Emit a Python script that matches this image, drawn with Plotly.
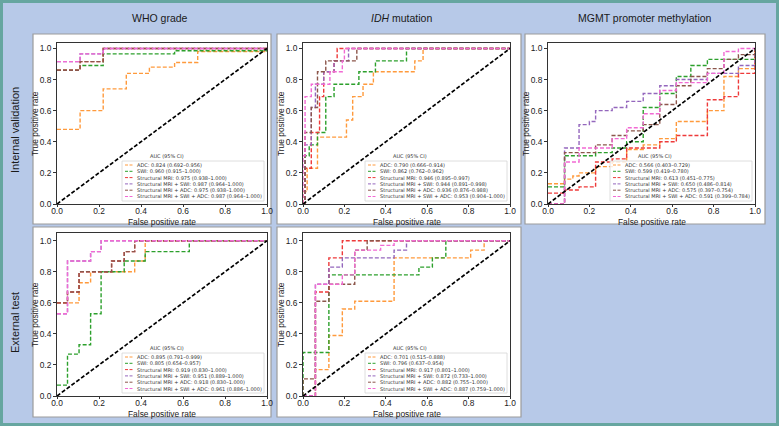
import plotly.graph_objects as go

W, H = 779, 426

header_titles = ["WHO grade", "<i>IDH</i> mutation", "MGMT promoter methylation"]
row_titles = ["Internal validation", "External test"]
series_names = ["ADC", "SWI", "Structural MRI", "Structural MRI + SWI",
                "Structural MRI + ADC", "Structural MRI + SWI + ADC"]
colors = ["#ff9a3c", "#2ca02c", "#ee3a3a", "#9467bd", "#8c564b", "#f26ad4"]
x_ticks = [0.0, 0.2, 0.4, 0.6, 0.8, 1.0]
y_ticks = [0.0, 0.2, 0.4, 0.6, 0.8, 1.0]
x_title = "False positive rate"
y_title = "True positive rate"
legend_title = "AUC (95% CI)"

# ---------- Panel 1: WHO grade, internal validation ----------
who_int_fpr = [
    [0, 0.11, 0.11, 0.22, 0.22, 0.33, 0.33, 0.44, 0.44, 0.56, 0.56, 0.67, 0.67, 1.0, 1.0],
    [0, 0.11, 0.11, 0.22, 0.22, 0.56, 0.56, 1.0, 1.0],
    [0, 0.11, 0.11, 0.22, 0.22, 1.0],
    [0, 0.11, 0.11, 0.22, 0.22, 1.0],
    [0, 0.11, 0.11, 0.22, 0.22, 1.0],
    [0, 0.11, 0.11, 0.22, 0.22, 1.0],
]
who_int_tpr = [
    [0.48, 0.48, 0.60, 0.60, 0.74, 0.74, 0.84, 0.84, 0.88, 0.88, 0.91, 0.91, 0.98, 0.98, 1.0],
    [0.86, 0.86, 0.89, 0.89, 0.965, 0.965, 0.985, 0.985, 1.0],
    [0.86, 0.86, 0.915, 0.915, 1.0, 1.0],
    [0.915, 0.915, 0.965, 0.965, 1.0, 1.0],
    [0.86, 0.86, 0.915, 0.915, 1.0, 1.0],
    [0.915, 0.915, 0.965, 0.965, 1.0, 1.0],
]
who_int_auc = ["0.824 (0.692\u20130.956)", "0.960 (0.915\u20131.000)", "0.975 (0.938\u20131.000)",
               "0.987 (0.964\u20131.000)", "0.975 (0.938\u20131.000)", "0.987 (0.964\u20131.000)"]

# ---------- Panel 2: IDH mutation, internal validation ----------
idh_int_fpr = [
    [0, 0, 0.02, 0.02, 0.07, 0.07, 0.21, 0.21, 0.24, 0.24, 0.29, 0.29, 0.34, 0.34, 0.54, 0.54, 0.58, 0.58, 1.0],
    [0, 0.01, 0.01, 0.03, 0.03, 0.07, 0.07, 0.11, 0.11, 0.15, 0.15, 0.27, 0.27, 0.35, 0.35, 0.50, 0.50, 1.0],
    [0, 0.01, 0.01, 0.04, 0.04, 0.08, 0.08, 0.10, 0.10, 0.15, 0.15, 0.165, 0.165, 1.0],
    [0, 0.01, 0.01, 0.04, 0.04, 0.06, 0.06, 0.10, 0.10, 0.15, 0.15, 0.22, 0.22, 1.0],
    [0, 0.01, 0.01, 0.04, 0.04, 0.07, 0.07, 0.11, 0.11, 0.26, 0.26, 1.0],
    [0, 0, 0.01, 0.01, 0.04, 0.04, 0.13, 0.13, 0.19, 0.19, 0.20, 0.20, 1.0],
]
idh_int_tpr = [
    [0, 0.08, 0.08, 0.23, 0.23, 0.43, 0.43, 0.54, 0.54, 0.69, 0.69, 0.77, 0.77, 0.85, 0.85, 0.92, 0.92, 1.0, 1.0],
    [0, 0, 0.31, 0.31, 0.38, 0.38, 0.46, 0.46, 0.69, 0.69, 0.77, 0.77, 0.85, 0.85, 0.92, 0.92, 1.0, 1.0],
    [0, 0, 0.23, 0.23, 0.46, 0.46, 0.69, 0.69, 0.85, 0.85, 0.92, 0.92, 1.0, 1.0],
    [0, 0, 0.38, 0.38, 0.62, 0.62, 0.77, 0.77, 0.85, 0.85, 0.92, 0.92, 1.0, 1.0],
    [0, 0, 0.46, 0.46, 0.62, 0.62, 0.85, 0.85, 0.92, 0.92, 1.0, 1.0],
    [0, 0.31, 0.31, 0.69, 0.69, 0.77, 0.77, 0.85, 0.85, 0.92, 0.92, 1.0, 1.0],
]
idh_int_auc = ["0.790 (0.666\u20130.914)", "0.862 (0.762\u20130.962)", "0.946 (0.895\u20130.997)",
               "0.944 (0.891\u20130.998)", "0.936 (0.876\u20130.988)", "0.953 (0.904\u20131.000)"]

# ---------- Panel 3: MGMT promoter methylation, internal validation ----------
mgmt_int_fpr = [
    [0, 0.08, 0.08, 0.12, 0.12, 0.15, 0.15, 0.23, 0.23, 0.31, 0.31, 0.38, 0.38, 0.46, 0.46, 0.54, 0.54, 0.62, 0.62, 0.77, 0.77, 0.85, 0.85, 0.92, 0.92, 1.0, 1.0],
    [0, 0.08, 0.08, 0.23, 0.23, 0.31, 0.31, 0.38, 0.38, 0.46, 0.46, 0.54, 0.54, 0.62, 0.62, 0.69, 0.69, 0.77, 0.77, 1.0, 1.0],
    [0, 0.08, 0.08, 0.15, 0.15, 0.23, 0.23, 0.31, 0.31, 0.38, 0.38, 0.54, 0.54, 0.62, 0.62, 0.77, 0.77, 0.85, 0.85, 0.92, 0.92, 1.0, 1.0],
    [0, 0.08, 0.08, 0.15, 0.15, 0.20, 0.20, 0.23, 0.23, 0.31, 0.31, 0.38, 0.38, 0.46, 0.46, 0.54, 0.54, 0.62, 0.62, 0.77, 0.77, 0.92, 0.92, 1.0, 1.0],
    [0, 0.08, 0.08, 0.23, 0.23, 0.31, 0.31, 0.38, 0.38, 0.46, 0.46, 0.54, 0.54, 0.62, 0.62, 0.69, 0.69, 0.77, 0.77, 0.85, 0.85, 0.92, 0.92, 1.0, 1.0],
    [0, 0.08, 0.08, 0.15, 0.15, 0.31, 0.31, 0.38, 0.38, 0.46, 0.46, 0.54, 0.54, 0.62, 0.62, 0.77, 0.77, 0.85, 0.85, 0.92, 0.92, 1.0],
]
mgmt_int_tpr = [
    [0.13, 0.13, 0.16, 0.16, 0.18, 0.18, 0.20, 0.20, 0.24, 0.24, 0.27, 0.27, 0.35, 0.35, 0.38, 0.38, 0.42, 0.42, 0.53, 0.53, 0.60, 0.60, 0.82, 0.82, 0.87, 0.87, 1.0],
    [0.11, 0.11, 0.31, 0.31, 0.33, 0.33, 0.36, 0.36, 0.40, 0.40, 0.62, 0.62, 0.71, 0.71, 0.82, 0.82, 0.89, 0.89, 0.93, 0.93, 1.0],
    [0.07, 0.07, 0.09, 0.09, 0.11, 0.11, 0.27, 0.27, 0.29, 0.29, 0.36, 0.36, 0.40, 0.40, 0.44, 0.44, 0.67, 0.67, 0.69, 0.69, 0.84, 0.84, 1.0],
    [0, 0, 0.36, 0.36, 0.51, 0.51, 0.53, 0.53, 0.60, 0.60, 0.62, 0.62, 0.66, 0.66, 0.71, 0.71, 0.76, 0.76, 0.80, 0.80, 0.84, 0.84, 0.89, 0.89, 1.0],
    [0, 0, 0.33, 0.33, 0.38, 0.38, 0.44, 0.44, 0.47, 0.47, 0.51, 0.51, 0.64, 0.64, 0.76, 0.76, 0.82, 0.82, 0.87, 0.87, 0.93, 0.93, 0.96, 0.96, 1.0],
    [0, 0, 0.27, 0.27, 0.36, 0.36, 0.42, 0.42, 0.49, 0.49, 0.58, 0.58, 0.73, 0.73, 0.78, 0.78, 0.84, 0.84, 0.98, 0.98, 1.0, 1.0],
]
mgmt_int_auc = ["0.566 (0.403\u20130.729)", "0.599 (0.419\u20130.780)", "0.613 (0.451\u20130.775)",
                "0.650 (0.486\u20130.814)", "0.575 (0.397\u20130.754)", "0.591 (0.399\u20130.784)"]

# ---------- Panel 4: WHO grade, external test ----------
who_ext_fpr = [
    [0, 0.105, 0.105, 0.16, 0.16, 0.37, 0.37, 0.42, 0.42, 1.0],
    [0, 0.05, 0.05, 0.105, 0.105, 0.16, 0.16, 0.21, 0.21, 0.32, 0.32, 0.42, 0.42, 0.63, 0.63, 1.0],
    [0, 0.05, 0.05, 0.105, 0.105, 0.26, 0.26, 0.32, 0.32, 0.37, 0.37, 1.0],
    [0, 0.05, 0.05, 0.16, 0.16, 0.21, 0.21, 1.0],
    [0, 0.05, 0.05, 0.105, 0.105, 0.26, 0.26, 0.32, 0.32, 0.37, 0.37, 1.0],
    [0, 0.05, 0.05, 0.16, 0.16, 0.21, 0.21, 1.0],
]
who_ext_tpr = [
    [0.60, 0.60, 0.73, 0.73, 0.80, 0.80, 0.87, 0.87, 1.0, 1.0],
    [0.07, 0.07, 0.27, 0.27, 0.33, 0.33, 0.53, 0.53, 0.80, 0.80, 0.87, 0.87, 0.93, 0.93, 1.0, 1.0],
    [0.60, 0.60, 0.67, 0.67, 0.80, 0.80, 0.87, 0.87, 0.93, 0.93, 1.0, 1.0],
    [0.53, 0.53, 0.87, 0.87, 0.93, 0.93, 1.0, 1.0],
    [0.60, 0.60, 0.67, 0.67, 0.80, 0.80, 0.87, 0.87, 0.93, 0.93, 1.0, 1.0],
    [0.53, 0.53, 0.87, 0.87, 0.93, 0.93, 1.0, 1.0],
]
who_ext_auc = ["0.895 (0.791\u20130.999)", "0.805 (0.654\u20130.957)", "0.919 (0.830\u20131.000)",
               "0.951 (0.889\u20131.000)", "0.918 (0.830\u20131.000)", "0.961 (0.886\u20131.000)"]

# ---------- Panel 5: IDH mutation, external test ----------
idh_ext_fpr = [
    [0, 0.06, 0.06, 0.125, 0.125, 0.19, 0.19, 0.25, 0.25, 0.44, 0.44, 0.81, 0.81, 0.875, 0.875, 1.0],
    [0, 0, 0.125, 0.125, 0.56, 0.56, 0.625, 0.625, 0.69, 0.69, 1.0],
    [0, 0.06, 0.06, 0.125, 0.125, 0.19, 0.19, 1.0],
    [0, 0.06, 0.06, 0.125, 0.125, 0.19, 0.19, 0.44, 0.44, 0.50, 0.50, 1.0],
    [0, 0, 0.06, 0.06, 0.125, 0.125, 0.25, 0.25, 0.31, 0.31, 1.0],
    [0, 0.06, 0.06, 0.19, 0.19, 0.25, 0.25, 0.375, 0.375, 0.44, 0.44, 1.0],
]
idh_ext_tpr = [
    [0, 0, 0.17, 0.17, 0.39, 0.39, 0.56, 0.56, 0.61, 0.61, 0.89, 0.89, 0.94, 0.94, 1.0, 1.0],
    [0, 0.28, 0.28, 0.78, 0.78, 0.83, 0.83, 0.89, 0.89, 1.0, 1.0],
    [0, 0, 0.67, 0.67, 0.89, 0.89, 1.0, 1.0],
    [0, 0, 0.72, 0.72, 0.83, 0.83, 0.89, 0.89, 0.94, 0.94, 1.0, 1.0],
    [0, 0.11, 0.11, 0.61, 0.61, 0.72, 0.72, 0.94, 0.94, 1.0, 1.0],
    [0, 0, 0.72, 0.72, 0.78, 0.78, 0.94, 0.94, 0.97, 0.97, 1.0, 1.0],
]
idh_ext_auc = ["0.701 (0.515\u20130.888)", "0.796 (0.637\u20130.954)", "0.917 (0.801\u20131.000)",
               "0.872 (0.733\u20131.000)", "0.882 (0.755\u20131.000)", "0.887 (0.759\u20131.000)"]

panel_data = [
    (who_int_fpr, who_int_tpr, who_int_auc),
    (idh_int_fpr, idh_int_tpr, idh_int_auc),
    (mgmt_int_fpr, mgmt_int_tpr, mgmt_int_auc),
    (who_ext_fpr, who_ext_tpr, who_ext_auc),
    (idh_ext_fpr, idh_ext_tpr, idh_ext_auc),
]

# ---------- layout geometry (pixels) ----------
panel_boxes = [(33, 34, 271, 224), (277, 34, 521, 224), (525, 34, 765, 224),
               (33, 227, 271, 417), (277, 227, 521, 417)]
plot_areas = [(57, 43, 267, 204), (303, 43, 510, 204), (548, 43, 755, 204),
              (57, 233, 267, 396), (303, 233, 510, 396)]
y_tops = [1.035, 1.035, 1.035, 1.05, 1.05]
header_x = [160, 401, 645]
row_y = [130, 323]


def px(x):
    return x / W


def py(y):
    return 1 - y / H


fig = go.Figure()
shapes = []
annotations = []

# outer teal frame
shapes.append(dict(type="rect", xref="paper", yref="paper", x0=px(1.5), x1=px(W - 1.5),
                   y0=py(H - 1.5), y1=py(1.5), line=dict(color="#66a6a0", width=3),
                   layer="below"))
# panel white boxes
for (x0, y0, x1, y1) in panel_boxes:
    shapes.append(dict(type="rect", xref="paper", yref="paper", x0=px(x0), x1=px(x1),
                       y0=py(y1), y1=py(y0), fillcolor="white",
                       line=dict(color="#9c9c9c", width=1.2), layer="below"))

for i, t in enumerate(header_titles):
    annotations.append(dict(text=t, x=px(header_x[i]), y=py(18), xref="paper", yref="paper",
                            showarrow=False, xanchor="center", yanchor="middle",
                            font=dict(family="Liberation Sans", size=10.5, color="#1a1a1a")))
for i, t in enumerate(row_titles):
    annotations.append(dict(text=t, x=px(15), y=py(row_y[i]), xref="paper", yref="paper",
                            showarrow=False, textangle=-90, xanchor="center", yanchor="middle",
                            font=dict(family="Liberation Sans", size=11, color="#1a1a1a")))

tick_font = dict(family="Liberation Sans", size=8.4, color="#222")
title_font = dict(family="Liberation Sans", size=8.4, color="#222")

for k, (fprs, tprs, aucs) in enumerate(panel_data):
    xa = "x" if k == 0 else f"x{k + 1}"
    ya = "y" if k == 0 else f"y{k + 1}"
    for s in range(len(series_names)):
        fig.add_trace(go.Scatter(
            x=fprs[s], y=tprs[s], mode="lines", xaxis=xa, yaxis=ya,
            line=dict(color=colors[s], width=1.4, dash="4px,2px"),
            name=series_names[s], showlegend=False, hoverinfo="skip"))
    fig.add_trace(go.Scatter(
        x=[0, 1], y=[0, 1], mode="lines", xaxis=xa, yaxis=ya,
        line=dict(color="black", width=1.7, dash="4px,2px"),
        showlegend=False, hoverinfo="skip"))

    x0, y0, x1, y1 = plot_areas[k]
    axname_x = "xaxis" if k == 0 else f"xaxis{k + 1}"
    axname_y = "yaxis" if k == 0 else f"yaxis{k + 1}"
    fig.layout[axname_x] = dict(
        domain=[px(x0), px(x1)], range=[0, 1.0], anchor=ya, automargin=False,
        tickvals=x_ticks, ticktext=[f"{v:.1f}" for v in x_ticks],
        ticks="outside", ticklen=2, tickwidth=0.8, tickcolor="#333",
        ticklabelstandoff=-3,
        showline=True, linecolor="#333", linewidth=0.9, mirror=True,
        showgrid=False, zeroline=False, tickfont=tick_font)
    fig.layout[axname_y] = dict(
        domain=[py(y1), py(y0)], range=[0, y_tops[k]], anchor=xa, automargin=False,
        tickvals=y_ticks, ticktext=[f"{v:.1f}" for v in y_ticks],
        ticks="outside", ticklen=3, tickwidth=0.8, tickcolor="#333",
        ticklabelstandoff=0,
        showline=True, linecolor="#333", linewidth=0.9, mirror=True,
        showgrid=False, zeroline=False, tickfont=tick_font)

    # axis titles
    annotations.append(dict(text=x_title, x=px((x0 + x1) / 2), y=py(y1 + 17.5),
                            xref="paper", yref="paper", showarrow=False,
                            xanchor="center", yanchor="middle", font=title_font))
    annotations.append(dict(text=y_title, x=px(x0 - 22.5), y=py((y0 + y1) / 2),
                            xref="paper", yref="paper", showarrow=False, textangle=-90,
                            xanchor="center", yanchor="middle", font=title_font))

    # legend (drawn as decoration relative to the plot area)
    bx1 = x1 - 3
    bx0 = bx1 - 142
    by1 = y1 - 3
    by0 = by1 - 40
    shapes.append(dict(type="rect", xref="paper", yref="paper", x0=px(bx0), x1=px(bx1),
                       y0=py(by1), y1=py(by0), fillcolor="rgba(255,255,255,0.8)",
                       line=dict(color="#d6d6d6", width=0.8), layer="above"))
    annotations.append(dict(text=legend_title, x=px(bx0 + 45), y=py(by0 - 5),
                            xref="paper", yref="paper", showarrow=False,
                            xanchor="center", yanchor="middle",
                            font=dict(family="DejaVu Sans", size=5, color="#333")))
    for s in range(len(series_names)):
        yy = by0 + 4 + s * 6.3
        shapes.append(dict(type="line", xref="paper", yref="paper", x0=px(bx0 + 3),
                           x1=px(bx0 + 11), y0=py(yy), y1=py(yy),
                           line=dict(color=colors[s], width=1, dash="3px,1.5px"),
                           layer="above"))
        annotations.append(dict(text=f"{series_names[s]}: {aucs[s]}", x=px(bx0 + 13),
                                y=py(yy), xref="paper", yref="paper", showarrow=False,
                                xanchor="left", yanchor="middle",
                                font=dict(family="DejaVu Sans", size=5, color="#333")))

fig.update_layout(
    width=W, height=H, margin=dict(l=0, r=0, t=0, b=0, autoexpand=False),
    paper_bgcolor="#b7c9e8", plot_bgcolor="white",
    shapes=shapes, annotations=annotations, showlegend=False,
)

fig.write_html("out.html", config={"displayModeBar": False},
               post_script="document.body.style.margin='0px';document.body.style.overflow='hidden';")
